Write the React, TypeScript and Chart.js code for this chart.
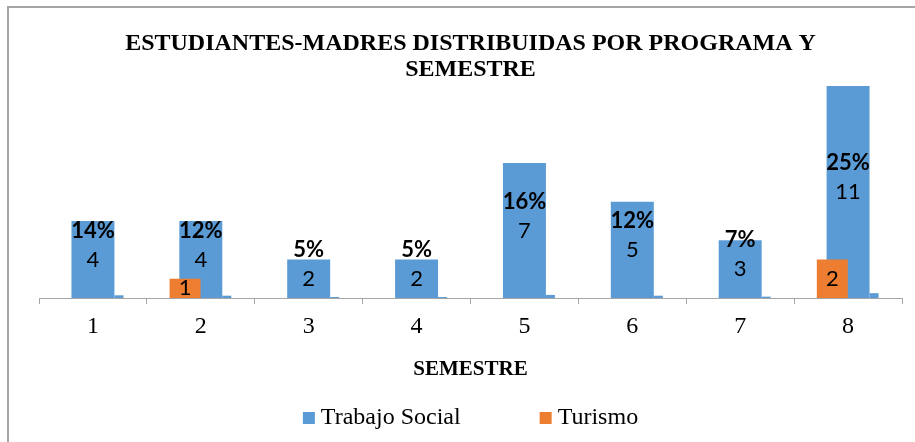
import React, { useEffect, useRef } from 'react';
import { Chart, registerables } from 'chart.js';

Chart.register(...registerables);

// ---- data ----
const semestres = ['1', '2', '3', '4', '5', '6', '7', '8'];
const trabajoSocial = [4, 4, 2, 2, 7, 5, 3, 11];
const turismo = [null, 1, null, null, null, null, null, 2];
const porcentajes = [14, 12, 5, 5, 16, 12, 7, 25];
const tituloLineas = ['ESTUDIANTES-MADRES DISTRIBUIDAS POR PROGRAMA Y', 'SEMESTRE'];
const tituloEje = 'SEMESTRE';

const AZUL = '#5b9bd5';
const NARANJA = '#ed7d31';
const SERIF = '"Liberation Serif", "Times New Roman", serif';
const SANS = 'Lato, "Noto Sans", sans-serif';

const valueLabels = {
  id: 'valueLabels',
  afterDatasetsDraw(chart: any) {
    const ctx = chart.ctx;
    ctx.save();
    ctx.fillStyle = '#000';
    ctx.textAlign = 'center';
    ctx.textBaseline = 'middle';
    ctx.font = `22px ${SANS}`;
    [0, 1].forEach((di) => {
      const meta = chart.getDatasetMeta(di);
      meta.data.forEach((el: any, i: number) => {
        const v = chart.data.datasets[di].data[i];
        if (v == null) return;
        const { x, y, base } = el.getProps(['x', 'y', 'base'], true);
        ctx.fillText(String(v), x, (y + base) / 2);
      });
    });
    ctx.font = `bold 22px ${SANS}`;
    const meta = chart.getDatasetMeta(1);
    const xs = chart.scales.x;
    meta.data.forEach((el: any, i: number) => {
      const { y, base } = el.getProps(['y', 'base'], true);
      ctx.fillText(porcentajes[i] + '%', xs.getPixelForValue(i), (y + base) / 2 - 29);
    });
    ctx.restore();
  },
};

const customLegend = {
  id: 'customLegend',
  afterDraw(chart: any) {
    const ctx = chart.ctx;
    const items = [chart.data.datasets[1], chart.data.datasets[0]];
    ctx.save();
    ctx.font = `24px ${SERIF}`;
    const box = 12;
    const gapBox = 6;
    const gapItem = 79;
    const widths = items.map((d: any) => ctx.measureText(d.label).width);
    const total =
      widths.reduce((a: number, w: number) => a + box + gapBox + w, 0) + gapItem * (items.length - 1);
    let x = (chart.chartArea.left + chart.chartArea.right) / 2 - total / 2;
    const cy = chart.height - 24;
    items.forEach((d: any, i: number) => {
      ctx.fillStyle = d.backgroundColor;
      ctx.fillRect(x, cy - box / 2, box, box);
      x += box + gapBox;
      ctx.fillStyle = '#000';
      ctx.textBaseline = 'middle';
      ctx.textAlign = 'left';
      ctx.fillText(d.label, x, cy);
      x += widths[i] + gapItem;
    });
    ctx.restore();
  },
};

export default function App() {
  const canvasRef = useRef<HTMLCanvasElement | null>(null);

  useEffect(() => {
    if (!canvasRef.current) return;
    const chart = new Chart(canvasRef.current, {
      type: 'bar',
      data: {
        labels: semestres,
        datasets: [
          {
            label: 'Turismo',
            data: turismo,
            backgroundColor: NARANJA,
            categoryPercentage: 0.438,
            barPercentage: 1.968,
          },
          {
            label: 'Trabajo Social',
            data: trabajoSocial,
            backgroundColor: AZUL,
            categoryPercentage: 1,
            barPercentage: 1.195,
          },
          {
            label: 'Porcentaje',
            data: porcentajes.map((p) => p / 100),
            backgroundColor: AZUL,
            categoryPercentage: 0.723,
            barPercentage: 0.346,
          },
        ],
      },
      options: {
        responsive: false,
        animation: false,
        layout: { padding: { left: 39, right: 13, top: 0, bottom: 59.4 } },
        plugins: {
          legend: { display: false },
          tooltip: { enabled: false },
          title: {
            display: true,
            text: tituloLineas,
            color: '#000',
            font: { family: SERIF, size: 24, weight: 'bold', lineHeight: 26 / 24 },
            padding: { top: 31, bottom: 3 },
          },
        },
        scales: {
          x: {
            grid: {
              display: true,
              drawOnChartArea: false,
              drawTicks: true,
              tickLength: 6,
              color: '#a6a6a6',
              offset: true,
            },
            border: { display: true, color: '#a6a6a6', width: 1 },
            ticks: {
              color: '#000',
              padding: 8,
              font: { family: SERIF, size: 24, lineHeight: 1.2 },
            },
            title: {
              display: true,
              text: tituloEje,
              color: '#000',
              font: { family: SERIF, size: 21, weight: 'bold', lineHeight: 1.2 },
              padding: { top: 8.6, bottom: 0 },
            },
          },
          y: {
            display: false,
            min: 0,
            max: 11,
          },
        },
      },
      plugins: [valueLabels, customLegend],
    });
    return () => chart.destroy();
  }, []);

  return (
    <div style={{ position: 'fixed', left: 0, top: 0, width: 915, height: 442, background: '#fff', overflow: 'hidden' }}>
      <div
        style={{
          position: 'absolute',
          left: 7,
          top: 6,
          right: 0,
          bottom: 0,
          borderLeft: '2px solid #a6a6a6',
          borderTop: '2px solid #a6a6a6',
        }}
      />
      <canvas
        ref={canvasRef}
        width={915}
        height={442}
        style={{ position: 'absolute', left: 0, top: 0, width: 915, height: 442 }}
      />
    </div>
  );
}
